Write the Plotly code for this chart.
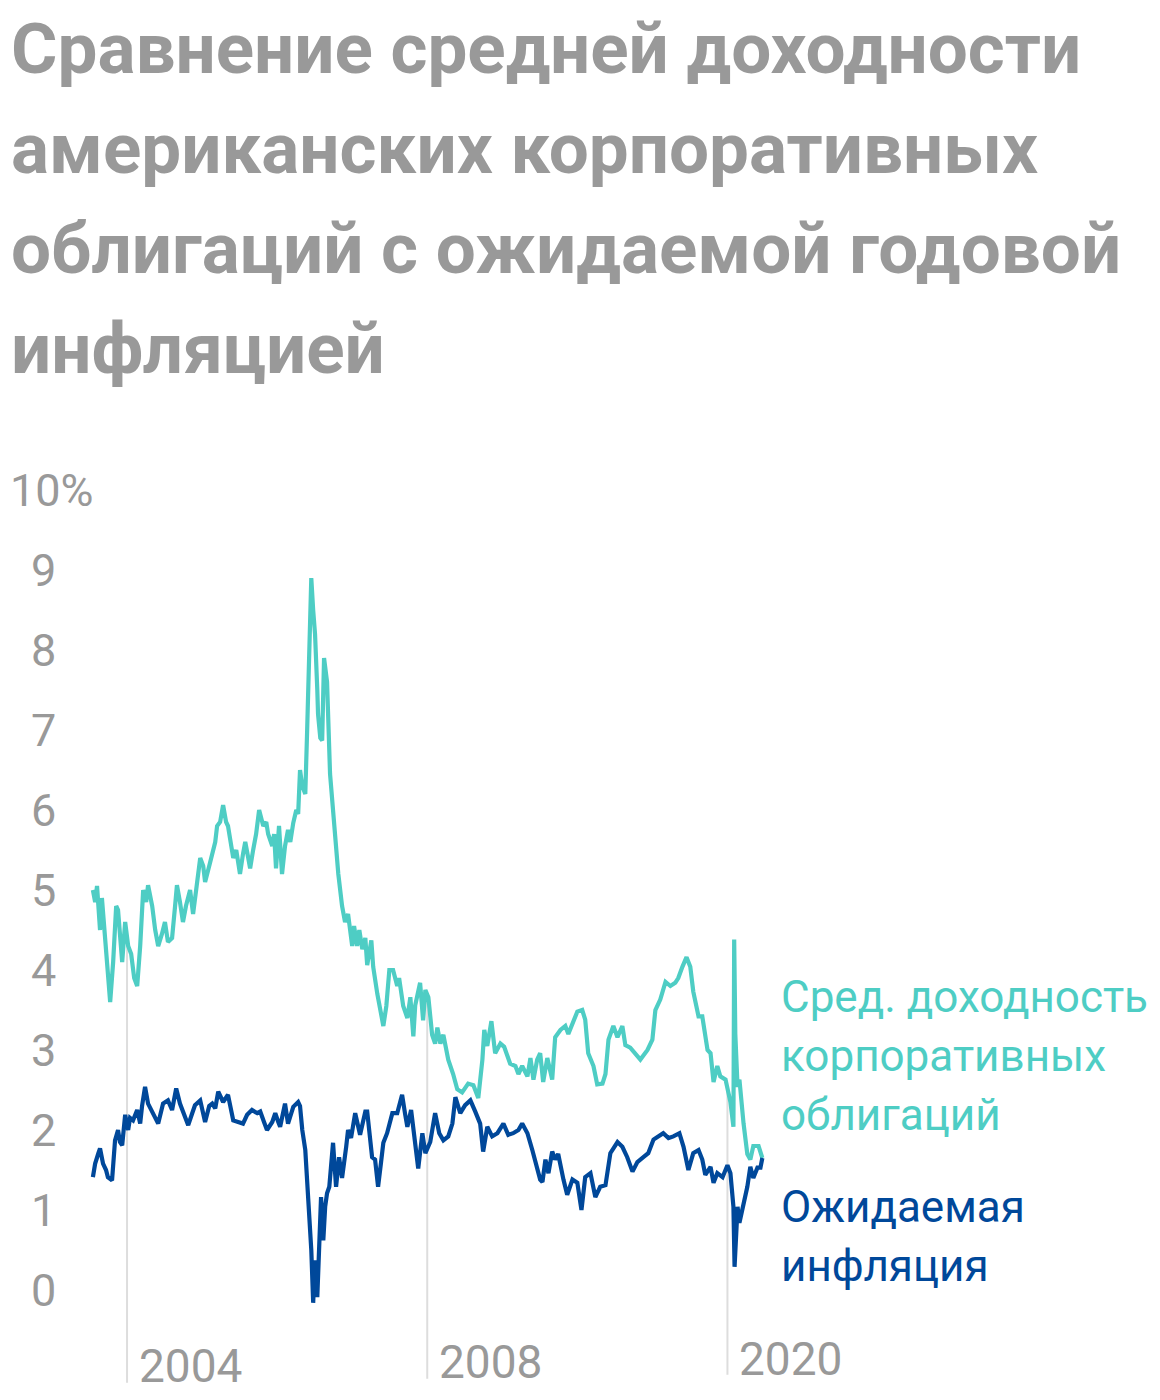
import plotly.graph_objects as go
import numpy as np

# --- data (decimal years, %)
yield_years = [2003.09, 2003.15, 2003.20, 2003.28, 2003.33, 2003.41, 2003.49, 2003.55, 2003.63, 2003.71,
               2003.76, 2003.87, 2003.95, 2004.03, 2004.11, 2004.19, 2004.27, 2004.35, 2004.43, 2004.51,
               2004.56, 2004.67, 2004.75, 2004.83, 2004.93, 2005.01, 2005.09, 2005.20, 2005.28, 2005.33,
               2005.41, 2005.49, 2005.57, 2005.68, 2005.76, 2005.87, 2005.95, 2006.03, 2006.08, 2006.19,
               2006.27, 2006.35, 2006.40, 2006.48, 2006.56, 2006.64, 2006.69, 2006.77, 2006.83, 2006.91,
               2007.01, 2007.09, 2007.15, 2007.23, 2007.28, 2007.36, 2007.44, 2007.52, 2007.57, 2007.63,
               2007.71, 2007.76, 2007.87, 2007.92, 2007.97, 2008.05, 2008.13, 2008.21, 2008.29, 2008.35,
               2008.43, 2008.51, 2008.56, 2008.61, 2008.67, 2008.75, 2008.80, 2008.83, 2008.88, 2008.91,
               2008.96, 2009.01, 2009.07, 2009.09, 2009.15, 2009.20, 2009.25, 2009.31, 2009.33, 2009.41,
               2009.49, 2009.57, 2009.63, 2009.73, 2009.81, 2009.89, 2010.00, 2010.05, 2010.13, 2010.19,
               2010.27, 2010.35, 2010.40, 2010.51, 2010.56, 2010.67, 2010.75, 2010.83, 2010.91, 2010.99,
               2011.09, 2011.20, 2011.25, 2011.36, 2011.47, 2011.55, 2011.63, 2011.68, 2011.81, 2011.89,
               2011.95, 2012.03, 2012.13, 2012.21, 2012.27, 2012.35, 2012.43, 2012.56, 2012.69, 2012.80,
               2012.93, 2013.09, 2013.23, 2013.36, 2013.47, 2013.52, 2013.60, 2013.71, 2013.81, 2013.95,
               2014.05, 2014.21, 2014.35, 2014.43, 2014.53, 2014.67, 2014.75, 2014.83, 2014.93, 2015.01,
               2015.09, 2015.20, 2015.33, 2015.41, 2015.55, 2015.68, 2015.76, 2015.87, 2016.00, 2016.13,
               2016.21, 2016.29, 2016.43, 2016.53, 2016.67, 2016.75, 2016.83, 2016.96, 2017.07, 2017.20,
               2017.28, 2017.41, 2017.55, 2017.68, 2017.87, 2018.00, 2018.08, 2018.21, 2018.35, 2018.48,
               2018.61, 2018.69, 2018.80, 2018.91, 2019.01, 2019.09, 2019.23, 2019.33, 2019.47, 2019.55,
               2019.63, 2019.73, 2019.81, 2019.95, 2020.08, 2020.16, 2020.18, 2020.21, 2020.27, 2020.32,
               2020.43, 2020.53, 2020.61, 2020.69, 2020.83, 2020.93]
yield_vals = [5.0, 4.85, 5.05, 4.5, 4.9, 4.4, 3.9, 3.6, 4.1, 4.8,
              4.75, 4.1, 4.6, 4.3, 4.2, 3.9, 3.8, 4.3, 5.0, 4.85,
              5.06, 4.8, 4.5, 4.3, 4.45, 4.6, 4.35, 4.4, 4.8, 5.06,
              4.85, 4.6, 4.8, 5.0, 4.7, 5.1, 5.4, 5.3, 5.1, 5.3,
              5.46, 5.6, 5.8, 5.85, 6.06, 5.85, 5.8, 5.6, 5.4, 5.5,
              5.2, 5.45, 5.6, 5.4, 5.27, 5.5, 5.7, 6.0, 5.9, 5.8,
              5.85, 5.7, 5.55, 5.7, 5.27, 5.8, 5.2, 5.55, 5.75, 5.6,
              5.84, 6.0, 5.95, 6.5, 6.3, 6.2, 7.0, 7.6, 8.5, 8.9,
              8.5, 8.2, 7.5, 7.2, 6.9, 6.87, 7.9, 7.7, 7.6, 6.45,
              6.0, 5.6, 5.2, 4.8, 4.6, 4.7, 4.3, 4.55, 4.3, 4.5,
              4.26, 4.4, 4.06, 4.37, 4.04, 3.7, 3.5, 3.3, 3.55, 4.0,
              4.0, 3.8, 3.9, 3.55, 3.4, 3.66, 3.17, 3.56, 3.84, 3.37,
              3.75, 3.66, 3.19, 3.08, 3.28, 3.08, 3.19, 2.88, 2.7, 2.51,
              2.47, 2.58, 2.56, 2.4, 2.88, 3.25, 3.05, 3.36, 2.96, 3.08,
              3.04, 2.83, 2.8, 2.7, 2.8, 2.67, 2.9, 2.63, 2.88, 2.96,
              2.6, 2.9, 2.63, 3.16, 3.25, 3.3, 3.2, 3.33, 3.48, 3.5,
              3.38, 2.96, 2.8, 2.57, 2.58, 2.7, 3.13, 3.3, 3.16, 3.3,
              3.06, 3.03, 2.96, 2.88, 3.0, 3.13, 3.5, 3.63, 3.85, 3.8,
              3.84, 3.9, 4.04, 4.16, 4.04, 3.73, 3.42, 3.42, 3.0, 2.96,
              2.6, 2.8, 2.67, 2.63, 2.35, 2.04, 4.38, 3.2, 2.54, 2.63,
              2.08, 1.7, 1.63, 1.8, 1.8, 1.65]

infl_years = [2003.09, 2003.15, 2003.23, 2003.28, 2003.36, 2003.44, 2003.49, 2003.60, 2003.68, 2003.76,
              2003.81, 2003.87, 2003.95, 2004.03, 2004.08, 2004.16, 2004.27, 2004.35, 2004.40, 2004.48,
              2004.56, 2004.67, 2004.75, 2004.83, 2004.96, 2005.09, 2005.20, 2005.31, 2005.41, 2005.52,
              2005.63, 2005.73, 2005.81, 2005.95, 2006.08, 2006.19, 2006.27, 2006.35, 2006.43, 2006.51,
              2006.56, 2006.69, 2006.75, 2006.83, 2006.96, 2007.09, 2007.20, 2007.33, 2007.47, 2007.55,
              2007.65, 2007.73, 2007.87, 2007.95, 2008.03, 2008.08, 2008.21, 2008.29, 2008.43, 2008.56,
              2008.61, 2008.67, 2008.75, 2008.83, 2008.88, 2008.91, 2008.96, 2009.01, 2009.07, 2009.12,
              2009.17, 2009.23, 2009.28, 2009.33, 2009.39, 2009.49, 2009.57, 2009.65, 2009.73, 2009.84,
              2009.89, 2009.97, 2010.08, 2010.21, 2010.35, 2010.40, 2010.48, 2010.53, 2010.61, 2010.69,
              2010.77, 2010.83, 2010.93, 2011.07, 2011.20, 2011.33, 2011.41, 2011.47, 2011.57, 2011.68,
              2011.76, 2011.87, 2011.95, 2012.08, 2012.21, 2012.32, 2012.43, 2012.56, 2012.67, 2012.75,
              2012.88, 2013.01, 2013.15, 2013.28, 2013.41, 2013.49, 2013.60, 2013.73, 2013.87, 2014.03,
              2014.16, 2014.29, 2014.43, 2014.53, 2014.67, 2014.80, 2014.93, 2015.01, 2015.07, 2015.15,
              2015.23, 2015.33, 2015.41, 2015.49, 2015.63, 2015.73, 2015.87, 2016.00, 2016.11, 2016.21,
              2016.35, 2016.48, 2016.61, 2016.75, 2016.88, 2017.07, 2017.20, 2017.33, 2017.47, 2017.60,
              2017.76, 2017.89, 2018.03, 2018.16, 2018.29, 2018.43, 2018.56, 2018.72, 2018.83, 2018.96,
              2019.09, 2019.23, 2019.33, 2019.41, 2019.55, 2019.63, 2019.73, 2019.87, 2020.00, 2020.08,
              2020.16, 2020.19, 2020.27, 2020.32, 2020.43, 2020.53, 2020.61, 2020.69, 2020.80, 2020.88,
              2020.93]
infl_vals = [1.41, 1.58, 1.7, 1.77, 1.58, 1.5, 1.41, 1.37, 1.87, 2.0,
             1.85, 1.81, 2.19, 2.0, 2.15, 2.12, 2.25, 2.08, 2.3, 2.54,
             2.33, 2.23, 2.15, 2.08, 2.33, 2.37, 2.25, 2.52, 2.33, 2.2,
             2.06, 2.2, 2.31, 2.37, 2.1, 2.3, 2.33, 2.27, 2.48, 2.4,
             2.35, 2.44, 2.3, 2.12, 2.1, 2.08, 2.19, 2.25, 2.21, 2.23,
             2.1, 2.0, 2.1, 2.21, 2.1, 2.04, 2.33, 2.08, 2.29, 2.35,
             2.3, 2.0, 1.75, 1.21, 0.71, 0.5, -0.16, 0.37, -0.09, 0.5,
             1.16, 0.62, 1.04, 1.21, 1.29, 1.84, 1.29, 1.66, 1.4, 1.79,
             2.0, 1.9, 2.21, 1.94, 2.23, 2.23, 1.8, 1.66, 1.63, 1.29,
             1.6, 1.84, 1.96, 2.21, 2.21, 2.44, 2.2, 2.04, 2.25, 1.84,
             1.52, 1.96, 1.71, 1.85, 2.21, 1.96, 1.87, 1.92, 2.08, 2.41,
             2.21, 2.31, 2.37, 2.23, 2.08, 1.73, 2.04, 1.92, 1.96, 2.08,
             1.94, 1.96, 2.0, 2.08, 1.96, 1.75, 1.54, 1.38, 1.35, 1.63,
             1.46, 1.73, 1.63, 1.7, 1.38, 1.19, 1.38, 1.34, 1.0, 1.41,
             1.46, 1.16, 1.29, 1.31, 1.71, 1.85, 1.79, 1.66, 1.48, 1.6,
             1.66, 1.71, 1.88, 1.92, 1.96, 1.9, 1.92, 1.96, 1.79, 1.5,
             1.71, 1.75, 1.63, 1.44, 1.54, 1.34, 1.46, 1.41, 1.56, 1.46,
             1.04, 0.29, 1.04, 0.84, 1.09, 1.29, 1.54, 1.4, 1.53, 1.53,
             1.65]

y_ticks = [0, 1, 2, 3, 4, 5, 6, 7, 8, 9, 10]
x_ticks = [2004, 2012, 2020]
x_tick_text = ["2004", "2008", "2020"]

title_lines = ["Сравнение средней доходности", "американских корпоративных",
               "облигаций с ожидаемой годовой", "инфляцией"]
yield_label = ["Сред. доходность", "корпоративных", "облигаций"]
infl_label = ["Ожидаемая", "инфляция"]

TEAL = "#4ecdc4"
NAVY = "#00489a"
GREY = "#999999"
FONT = "Roboto"

W, H = 1160, 1400
OFF = 8  # page body margin
ML, MT = 44, 442
PW, PH = 788, 948
MR, MB = W - ML - PW, H - MT - PH


def px(x):
    # screen pixel -> paper x
    return (x - OFF - ML) / PW


def py(y):
    # screen pixel -> paper y
    return (H - MB - (y - OFF)) / PH


fig = go.Figure()
fig.add_trace(go.Scatter(x=yield_years, y=yield_vals, mode="lines",
                         line=dict(color=TEAL, width=4.2), hoverinfo="skip"))
fig.add_trace(go.Scatter(x=infl_years, y=infl_vals, mode="lines",
                         line=dict(color=NAVY, width=4.2), hoverinfo="skip"))

ann = []
# title
for i, t in enumerate(title_lines):
    ann.append(dict(text=t, xref="paper", yref="paper", x=px(OFF + 1), y=py(48 + 100 * i),
                    xanchor="left", yanchor="middle", showarrow=False, height=80, valign="middle",
                    font=dict(family=FONT, size=71, color=GREY, weight=700)))
# y labels
for v in y_ticks:
    if v == 10:
        ann.append(dict(text="10%", xref="paper", yref="y", x=px(OFF), y=v, xanchor="left",
                        yanchor="middle", showarrow=False, font=dict(family=FONT, size=45, color=GREY)))
    else:
        ann.append(dict(text=str(v), xref="paper", yref="y", x=px(58), y=v, xanchor="right",
                        yanchor="middle", showarrow=False, font=dict(family=FONT, size=45, color=GREY)))
# x labels and drop lines
shapes = []
label_y = [-0.95, -0.9, -0.86]
line_bottom = [-1.16, -1.11, -1.06]
for xv, txt, ly, lb in zip(x_ticks, x_tick_text, label_y, line_bottom):
    ann.append(dict(text=txt, xref="x", yref="y", x=xv, y=ly, xanchor="left", xshift=10,
                    yanchor="middle", showarrow=False, font=dict(family=FONT, size=46, color=GREY)))
    top = float(np.interp(xv, yield_years, yield_vals))
    shapes.append(dict(type="line", xref="x", yref="y", x0=xv, x1=xv, y0=top, y1=lb,
                       line=dict(color="#dddddd", width=2), layer="below"))
# series labels
for i, t in enumerate(yield_label):
    ann.append(dict(text=t, xref="paper", yref="paper", x=px(779), y=py(997 + 59 * i),
                    xanchor="left", yanchor="middle", showarrow=False,
                    font=dict(family=FONT, size=44, color=TEAL)))
for i, t in enumerate(infl_label):
    ann.append(dict(text=t, xref="paper", yref="paper", x=px(779), y=py(1207 + 59 * i),
                    xanchor="left", yanchor="middle", showarrow=False,
                    font=dict(family=FONT, size=44, color=NAVY)))

fig.update_layout(
    width=W, height=H,
    margin=dict(l=ML, r=MR, t=MT, b=MB),
    paper_bgcolor="white", plot_bgcolor="white",
    showlegend=False,
    xaxis=dict(range=[2002, 2023], visible=False, showgrid=False, zeroline=False),
    yaxis=dict(range=[-1.35, 10.5], visible=False, showgrid=False, zeroline=False),
    annotations=ann, shapes=shapes,
)

fig.write_html("out.html")
